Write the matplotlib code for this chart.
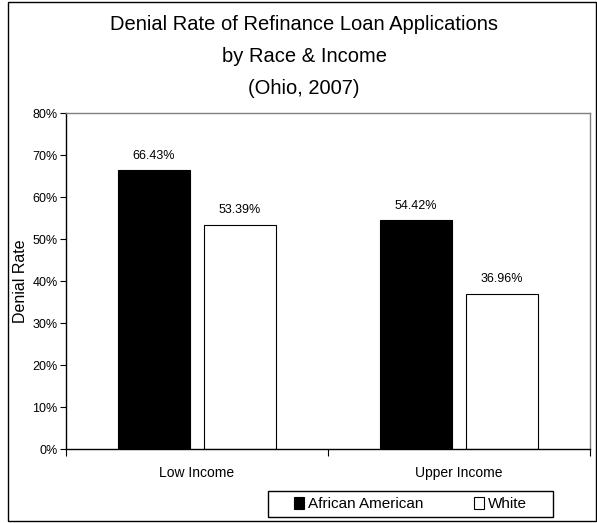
import matplotlib.pyplot as plt
from matplotlib.patches import Rectangle
from matplotlib.ticker import FuncFormatter

plt.rcParams["font.family"] = ["Liberation Sans", "DejaVu Sans"]

# data
categories = ["Low Income", "Upper Income"]
african_american = [66.43, 54.42]
white = [53.39, 36.96]
series_names = ["African American", "White"]

W, H = 597, 523
fig = plt.figure(figsize=(W / 100, H / 100), dpi=100)

# outer chart frame
fig.patches.append(Rectangle((8 / W, 2 / H), 588 / W, 519 / H, transform=fig.transFigure,
                             fill=False, edgecolor="black", linewidth=1.0))

ax = fig.add_axes([66 / W, 1 - 449 / H, (590 - 66) / W, (449 - 113) / H])

xs = range(len(categories))
bw = 0.275
off = 0.164
b1 = ax.bar([x - off for x in xs], african_american, bw, color="black",
            edgecolor="black", linewidth=0.8, label=series_names[0])
b2 = ax.bar([x + off for x in xs], white, bw, color="white",
            edgecolor="black", linewidth=0.8, label=series_names[1])

for bars, vals in ((b1, african_american), (b2, white)):
    for rect, v in zip(bars, vals):
        ax.annotate(f"{v:.2f}%", (rect.get_x() + rect.get_width() / 2, v),
                    xytext=(0, 6), textcoords="offset points",
                    ha="center", va="bottom", fontsize=9)

ax.set_xlim(-0.5, len(categories) - 0.5)
ax.set_ylim(0, 80)
ax.set_yticks(range(0, 81, 10))
ax.yaxis.set_major_formatter(FuncFormatter(lambda v, p: f"{v:.0f}%"))
ax.tick_params(axis="y", labelsize=9, length=4, width=0.8, direction="out", pad=2)

ax.set_xticks([-0.5, 0.5, 1.5])
ax.set_xticklabels([])
ax.tick_params(axis="x", length=5, width=0.8, direction="out")
for x, c in zip(xs, categories):
    ax.text(x, -0.072, c, transform=ax.get_xaxis_transform(), ha="center", va="center",
            fontsize=10)

ax.set_ylabel("Denial Rate", fontsize=11.5, labelpad=3)

for s in ("left", "bottom"):
    ax.spines[s].set_color("black")
    ax.spines[s].set_linewidth(1.0)
for s in ("top", "right"):
    ax.spines[s].set_color("#808080")
    ax.spines[s].set_linewidth(1.0)

# title
fig.text(304 / W, 1 - 24 / H, "Denial Rate of Refinance Loan Applications", ha="center",
         va="center", fontsize=14.5)
fig.text(304 / W, 1 - 56 / H, "by Race & Income", ha="center", va="center", fontsize=14.5)
fig.text(304 / W, 1 - 88 / H, "(Ohio, 2007)", ha="center", va="center", fontsize=14.5)

# legend: frame drawn separately so the entries can sit inset like the original
fig.patches.append(Rectangle((268 / W, 1 - 517 / H), 285 / W, 26 / H, transform=fig.transFigure,
                             fill=False, edgecolor="black", linewidth=1.0))
leg = fig.legend(handles=[b1, b2], labels=series_names, ncol=2,
                 loc="center left", bbox_to_anchor=(294 / W, 1 - 504 / H),
                 frameon=False, fontsize=11,
                 handlelength=0.65, handleheight=0.9, handletextpad=0.27,
                 columnspacing=3.3, borderpad=0, borderaxespad=0)

fig.savefig("out.png", dpi=100)
